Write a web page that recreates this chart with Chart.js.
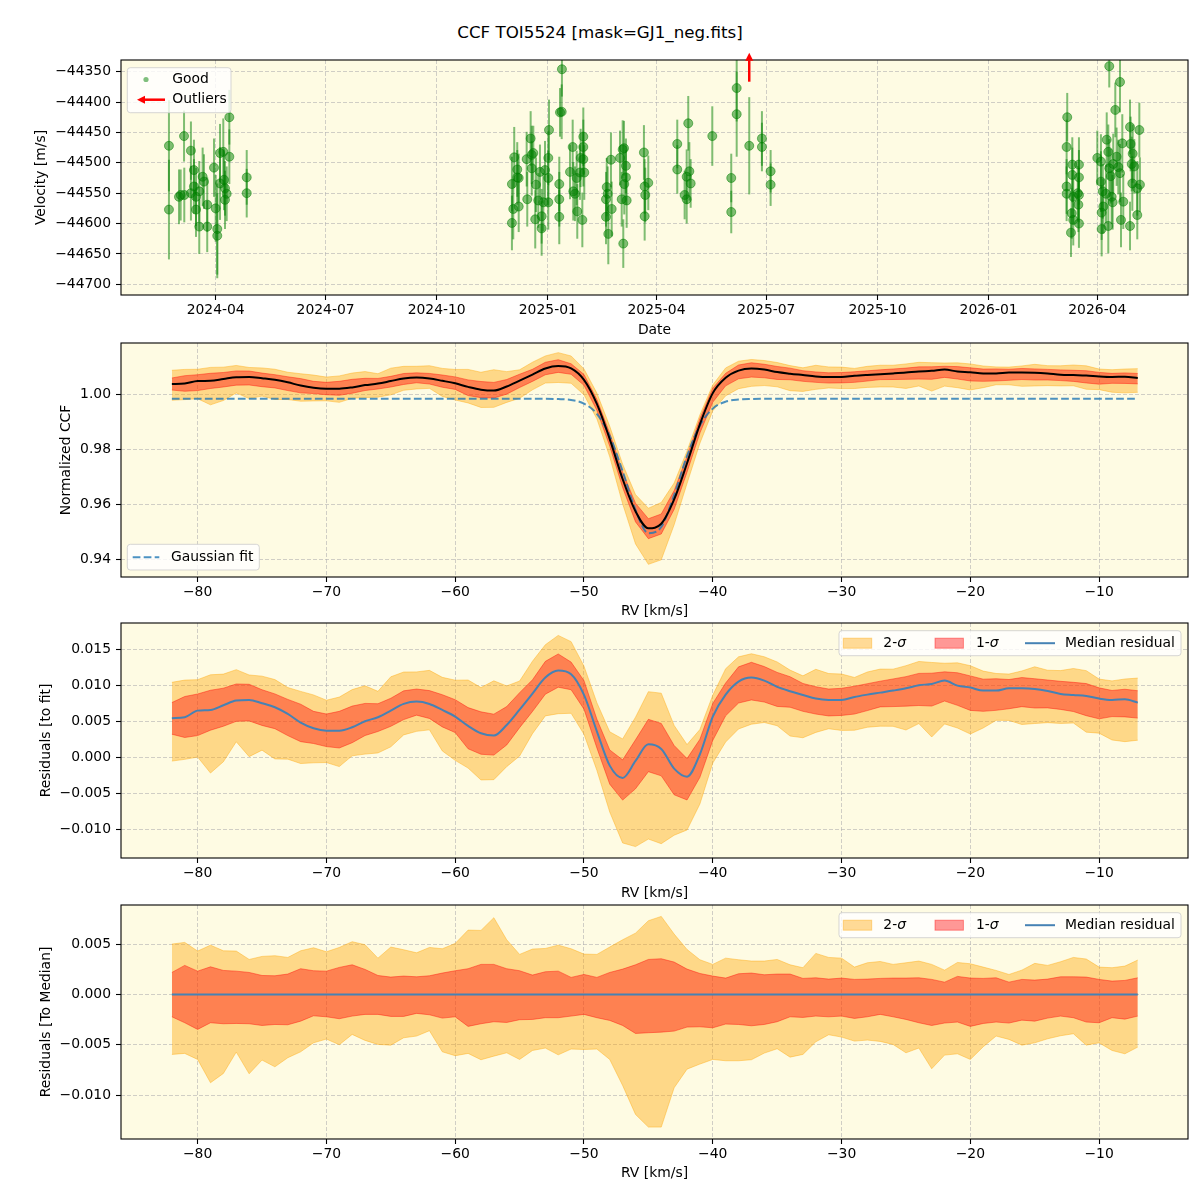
<!DOCTYPE html>
<html lang="en">
<head>
<meta charset="UTF-8">
<title>CCF TOI5524</title>
<script src="https://cdn.jsdelivr.net/npm/chart.js"></script>
<style>
    body { margin: 0; background: #fff; font-family: 'DejaVu Sans', sans-serif; }
    #page { position: relative; width: 1200px; height: 1200px; }
    .title { position: absolute; left: 0; top: 21px; width: 1200px; text-align: center; font-size: 16.7px; line-height: 22px; }
    canvas { position: absolute; left: 0; }
</style>
</head>
<body>
<div id="page">
    <div class="title">CCF TOI5524 [mask=GJ1_neg.fits]</div>
    <canvas id="rvChart" width="1200" height="345" style="top:0"></canvas>
    <canvas id="ccfChart" width="1200" height="290" style="top:335px"></canvas>
    <canvas id="residChart" width="1200" height="290" style="top:615px"></canvas>
    <canvas id="medChart" width="1200" height="303" style="top:897px"></canvas>
</div>
<script>
// ---- time series (days since 2024-01-01, velocity and error in m/s) ----
const obsDay = [
    52.3, 52.3, 60.6, 62.0, 64.8, 65.0, 70.5, 70.5, 73.0, 73.0, 74.7, 74.7, 77.4, 77.4, 80.2, 81.3, 84.0, 84.0, 89.6, 91.0,
    92.3, 92.3, 94.6, 94.6, 97.3, 97.9, 98.7, 98.7, 100.1, 102.3, 102.3, 116.7, 116.7,
    336.3, 336.3, 337.4, 338.2, 340.7, 340.7, 341.9, 341.9, 348.5, 349.0, 351.8, 352.7, 352.7, 354.0, 355.6, 356.2, 358.1, 359.5,
    360.9, 360.9, 362.3, 363.7, 366.4, 366.4, 367.0, 366.4, 375.5, 375.5, 375.5, 376.1, 377.5, 377.7, 384.4, 386.6, 387.1, 388.5,
    389.9, 390.4, 392.6, 393.2, 394.6, 395.4, 395.4, 395.4, 396.2, 414.2, 414.2, 414.8, 415.6, 416.1, 418.3, 418.9, 425.8, 427.2,
    428.0, 428.5, 429.1, 429.3, 430.7, 430.7, 431.3, 445.6, 446.2, 446.2, 446.7, 449.2, 473.2, 473.2, 479.3, 481.0, 481.0, 482.3,
    483.2, 484.3, 502.2, 517.9, 517.9, 522.4, 522.4, 532.8, 543.3, 543.3, 550.5, 550.5,
    795.6, 796.1, 795.6, 795.6, 799.2, 799.8, 800.3, 800.3, 801.1, 801.1, 804.8, 805.3, 805.8, 805.8, 805.8, 805.8, 821.0, 824.0,
    824.0, 824.6, 824.6, 825.5, 826.0, 828.2, 828.8, 830.1, 830.1, 830.9, 830.9, 832.1, 832.9, 833.7, 834.2, 835.9, 837.0, 838.4,
    839.8, 839.8, 840.6, 841.7, 842.5, 848.1, 848.1, 848.6, 849.5, 850.0, 850.3, 851.6, 854.1, 854.1, 855.8, 856.3
];
const obsVel = [
    -44472, -44577, -44556, -44553, -44456, -44553, -44480, -44550, -44512, -44539, -44556, -44577, -44547, -44605, -44523, -44531, -44569, -44605, -44508, -44575,
    -44609, -44620, -44484, -44534, -44482, -44528, -44542, -44561, -44551, -44490, -44425, -44524, -44550,
    -44535, -44599, -44576, -44491, -44511, -44524, -44525, -44572, -44494, -44560, -44460, -44487, -44509, -44484, -44593, -44536, -44562, -44515,
    -44588, -44608, -44565, -44512, -44525, -44565, -44446, -44492, -44535, -44560, -44589, -44417, -44416, -44346, -44515, -44474, -44547, -44551,
    -44525, -44580, -44516, -44492, -44594, -44457, -44474, -44494, -44516, -44560, -44589, -44540, -44551, -44617, -44495, -44576, -44492, -44560,
    -44478, -44633, -44476, -44535, -44505, -44524, -44562, -44483, -44539, -44588, -44553, -44533, -44469, -44511, -44553, -44523, -44560, -44435,
    -44514, -44534, -44456, -44525, -44581, -44377, -44420, -44472, -44460, -44474, -44514, -44536,
    -44474, -44425, -44539, -44551, -44615, -44583, -44503, -44520, -44556, -44594, -44550, -44569, -44503, -44524, -44600, -44553, -44492, -44498,
    -44531, -44582, -44609, -44547, -44572, -44551, -44462, -44482, -44604, -44341, -44509, -44522, -44556, -44565, -44502, -44413, -44490, -44507,
    -44367, -44517, -44594, -44468, -44564, -44604, -44441, -44469, -44502, -44534, -44485, -44506, -44586, -44542, -44446, -44536
];
const obsErr = [
    75, 82, 45, 42, 42, 45, 48, 45, 50, 45, 48, 45, 50, 45, 48, 45, 45, 42, 48, 55,
    75, 70, 48, 60, 55, 50, 45, 48, 45, 45, 45, 45, 40,
    45, 45, 50, 50, 45, 45, 40, 42, 45, 45, 45, 48, 45, 45, 48, 45, 45, 45,
    45, 45, 48, 48, 45, 45, 50, 45, 45, 45, 45, 40, 45, 45, 45, 45, 48, 45,
    45, 45, 45, 48, 45, 48, 45, 45, 45, 45, 45, 48, 45, 50, 45, 45, 45, 45,
    48, 40, 45, 50, 45, 45, 45, 45, 45, 40, 45, 45, 40, 40, 40, 45, 40, 45,
    48, 40, 49, 40, 35, 55, 70, 80, 45, 40, 35, 35,
    45, 40, 45, 45, 40, 42, 45, 45, 45, 42, 45, 45, 45, 45, 40, 45, 45, 45,
    50, 45, 45, 45, 45, 48, 45, 45, 45, 35, 48, 45, 45, 45, 50, 45, 48, 45,
    50, 48, 45, 48, 45, 40, 45, 45, 45, 45, 48, 45, 40, 45, 45, 45
];
const outlierDay = [532.8];

const monthTickDays = [91, 182, 274, 366, 456, 547, 639, 731, 821];
const monthTickLabels = ['2024-04', '2024-07', '2024-10', '2025-01', '2025-04', '2025-07', '2025-10', '2026-01', '2026-04'];
const velTicks = [-44700, -44650, -44600, -44550, -44500, -44450, -44400, -44350];

// ---- CCF profile (RV in km/s) ----
const rvGrid = [
    -82, -81, -80, -79, -78, -77, -76, -75, -74, -73, -72, -71, -70, -69, -68, -67, -66, -65, -64, -63,
    -62, -61, -60, -59, -58, -57, -56, -55, -54, -53, -52, -51, -50, -49, -48, -47, -46, -45, -44, -43,
    -42, -41, -40, -39, -38, -37, -36, -35, -34, -33, -32, -31, -30, -29, -28, -27, -26, -25, -24, -23,
    -22, -21, -20, -19, -18, -17, -16, -15, -14, -13, -12, -11, -10, -9, -8, -7
];
const gaussFit = [
    0.99855, 0.99855, 0.99855, 0.99855, 0.99855, 0.99855, 0.99855, 0.99855, 0.99855, 0.99855,
    0.99855, 0.99855, 0.99855, 0.99855, 0.99855, 0.99855, 0.99855, 0.99855, 0.99855, 0.99855,
    0.99855, 0.99855, 0.99855, 0.99855, 0.99855, 0.99855, 0.99855, 0.99855, 0.99855, 0.99855,
    0.99846, 0.99811, 0.9968, 0.99307, 0.98501, 0.97218, 0.95807, 0.94957, 0.95186, 0.96345,
    0.97776, 0.98885, 0.99498, 0.99752, 0.99831, 0.99851,
    0.99855, 0.99855, 0.99855, 0.99855, 0.99855, 0.99855, 0.99855, 0.99855, 0.99855, 0.99855,
    0.99855, 0.99855, 0.99855, 0.99855, 0.99855, 0.99855, 0.99855, 0.99855, 0.99855, 0.99855,
    0.99855, 0.99855, 0.99855, 0.99855, 0.99855, 0.99855, 0.99855, 0.99855, 0.99855, 0.99855
];
// median of (CCF - fit)
const medianResid = [
    0.00542, 0.00556, 0.00648, 0.00657, 0.00722, 0.00787, 0.00796, 0.0075, 0.00695, 0.00602,
    0.00482, 0.00403, 0.0037, 0.0037, 0.00417, 0.005, 0.00556, 0.00648, 0.00741, 0.00773,
    0.00741, 0.00657, 0.00565, 0.00435, 0.00333, 0.00301, 0.00449, 0.00662, 0.00884, 0.01107,
    0.01204, 0.01153, 0.00866, 0.00361, -0.00116, -0.00287, -0.00051, 0.0018, 0.00116, -0.00157,
    -0.00269, 0.00042, 0.00565, 0.0087, 0.01051, 0.01107, 0.01065, 0.00977, 0.00917, 0.00866,
    0.00815, 0.00796, 0.00796, 0.00838, 0.0087, 0.00898, 0.00926, 0.00958, 0.01, 0.01019,
    0.01065, 0.00995, 0.00968, 0.00926, 0.00926, 0.00958, 0.00958, 0.00949, 0.00921, 0.0088,
    0.00866, 0.00852, 0.00815, 0.00796, 0.00806, 0.00759
];
// percentile bands relative to the median
const sig2Upper = [
    0.00499, 0.00516, 0.0043, 0.00489, 0.00433, 0.0043, 0.00347, 0.00377, 0.00384, 0.00367,
    0.00433, 0.00463, 0.00423, 0.00466, 0.00523, 0.00493, 0.0036, 0.0047, 0.00443, 0.00413,
    0.00466, 0.00453, 0.00506, 0.00638, 0.00635, 0.00761, 0.00542, 0.00397, 0.0045, 0.00456,
    0.00489, 0.00453, 0.004, 0.00397, 0.0047, 0.00542, 0.00608, 0.00731, 0.00774, 0.00599,
    0.00446, 0.00344, 0.00298, 0.0036, 0.00344, 0.00331, 0.00331, 0.00347, 0.00294, 0.00265,
    0.00407, 0.00367, 0.0036, 0.00271, 0.00314, 0.00327, 0.00298, 0.00314, 0.00331, 0.00298,
    0.00241, 0.00317, 0.00304, 0.00271, 0.00238, 0.00198, 0.00241, 0.00308, 0.00288, 0.00324,
    0.00367, 0.00351, 0.00271, 0.00265, 0.00281, 0.00341
];
const sig2Lower = [
    -0.00595, -0.00585, -0.00645, -0.00876, -0.00784, -0.00572, -0.00787, -0.00651, -0.00718, -0.00628,
    -0.00569, -0.0048, -0.00443, -0.00499, -0.00397, -0.00456, -0.00496, -0.00503, -0.0043, -0.00413,
    -0.0036, -0.00569, -0.00608, -0.00585, -0.00648, -0.00612, -0.00579, -0.00645, -0.00556, -0.00532,
    -0.00599, -0.00542, -0.00546, -0.00542, -0.00645, -0.00903, -0.0119, -0.01316, -0.01316, -0.00926,
    -0.00741, -0.00691, -0.00645, -0.00658, -0.00658, -0.00648, -0.00582, -0.00539, -0.00622, -0.00595,
    -0.0047, -0.004, -0.00423, -0.00463, -0.00453, -0.00466, -0.00496, -0.00579, -0.00532, -0.00737,
    -0.00602, -0.00589, -0.00645, -0.00519, -0.00413, -0.00446, -0.00503, -0.0048, -0.0044, -0.0041,
    -0.0039, -0.00503, -0.0048, -0.00556, -0.00589, -0.00522
];
const sig1Upper = [
    0.00218, 0.00288, 0.00231, 0.00274, 0.00238, 0.00231, 0.00218, 0.00188, 0.00185, 0.00202,
    0.00255, 0.00235, 0.00231, 0.00268, 0.00294, 0.00248, 0.00188, 0.00172, 0.00182, 0.00175,
    0.00185, 0.00212, 0.00235, 0.00255, 0.00298, 0.00298, 0.00255, 0.00235, 0.00192, 0.00225,
    0.00231, 0.00169, 0.00198, 0.00169, 0.00218, 0.00251, 0.00294, 0.00347, 0.00354, 0.00321,
    0.00251, 0.00208, 0.00182, 0.00162, 0.00205, 0.00212, 0.00195, 0.00202, 0.00202, 0.00159,
    0.00165, 0.00152, 0.00162, 0.00149, 0.00152, 0.00159, 0.00162, 0.00162, 0.00165, 0.00149,
    0.00122, 0.00179, 0.00162, 0.00159, 0.00165, 0.00122, 0.00149, 0.00142, 0.00152, 0.00175,
    0.00175, 0.00172, 0.00149, 0.00132, 0.00139, 0.00165
];
const sig1Lower = [
    -0.00222, -0.00281, -0.00347, -0.00281, -0.00291, -0.00288, -0.00291, -0.00308, -0.00298, -0.00301,
    -0.00265, -0.00212, -0.00222, -0.00241, -0.00215, -0.00198, -0.00198, -0.00218, -0.00218, -0.00188,
    -0.00202, -0.00235, -0.00222, -0.00317, -0.00291, -0.00271, -0.00278, -0.00251, -0.00248, -0.00231,
    -0.00231, -0.00215, -0.00198, -0.00231, -0.00258, -0.00308, -0.00387, -0.0038, -0.00374, -0.00364,
    -0.00324, -0.00321, -0.00331, -0.00294, -0.00298, -0.00311, -0.00298, -0.00271, -0.00222, -0.00228,
    -0.00215, -0.00222, -0.00215, -0.00238, -0.00222, -0.00198, -0.00222, -0.00248, -0.00281, -0.00308,
    -0.00284, -0.00274, -0.00317, -0.00288, -0.00274, -0.00284, -0.00255, -0.00265, -0.00235, -0.00215,
    -0.00231, -0.00274, -0.00281, -0.00231, -0.00245, -0.00215
];

const rvTicks = [-80, -70, -60, -50, -40, -30, -20, -10];
const ccfTicks = [0.94, 0.96, 0.98, 1.00];
const residTicks = [-0.010, -0.005, 0.000, 0.005, 0.010, 0.015];
const medTicks = [-0.010, -0.005, 0.000, 0.005];

// ---- styling ----
Chart.defaults.font.family = "'DejaVu Sans', sans-serif";
Chart.defaults.font.size = 13.9;
Chart.defaults.color = '#000';
Chart.defaults.animation = false;

const BG = 'rgb(254,251,227)';
const GRID = 'rgba(176,176,176,0.6)';
const S2 = 'rgba(255,165,0,0.4)';
const S1 = 'rgba(255,0,0,0.4)';
const MED = '#4682b4';
const GREEN = 'rgba(0,128,0,0.5)';
const MINUS = '\u2212';

function fmt(v, dec) {
    const s = Math.abs(v).toFixed(dec);
    return (v < -1e-12 ? MINUS : '') + s;
}

// pin axis boxes so every plot area lands where the reference has it
function fixY(width) { return s => { s.width = width; s.paddingTop = 0; s.paddingBottom = 0; }; }
function fixX(height) { return s => { s.height = height; s.paddingLeft = 0; s.paddingRight = 0; }; }

function gridOpts() {
    return { color: GRID, lineWidth: 1, tickLength: 5, tickColor: '#000', tickWidth: 1.1 };
}

function xScale(min, max, ticks, label, titlePad, labelFn) {
    return {
        type: 'linear', min: min, max: max,
        afterBuildTicks: s => { s.ticks = ticks.map(v => ({ value: v })); },
        afterFit: fixX(45),
        ticks: { callback: labelFn, padding: 2, maxRotation: 0, autoSkip: false },
        grid: gridOpts(),
        border: { display: false, dash: [4, 2] },
        title: { display: true, text: label, padding: { top: 0, bottom: titlePad } }
    };
}

function yScale(min, max, ticks, dec, label, titlePad) {
    return {
        type: 'linear', min: min, max: max,
        afterBuildTicks: s => { s.ticks = ticks.map(v => ({ value: v })); },
        afterFit: fixY(121),
        ticks: { callback: v => fmt(v, dec), padding: 5, autoSkip: false },
        grid: gridOpts(),
        border: { display: false, dash: [4, 2] },
        title: { display: true, text: label, padding: { top: titlePad, bottom: 0 } }
    };
}

const framePlugin = {
    id: 'frame',
    beforeDraw(chart) {
        const { ctx, chartArea: a } = chart;
        ctx.save();
        ctx.fillStyle = BG;
        ctx.fillRect(a.left, a.top, a.right - a.left, a.bottom - a.top);
        ctx.restore();
    },
    afterDatasetsDraw(chart) {
        const { ctx, chartArea: a } = chart;
        ctx.save();
        ctx.strokeStyle = '#000';
        ctx.lineWidth = 1.1;
        ctx.strokeRect(a.left, a.top, a.right - a.left, a.bottom - a.top);
        ctx.restore();
    }
};

function legendFrame(ctx, x, y, w, h) {
    ctx.save();
    ctx.beginPath();
    if (ctx.roundRect) ctx.roundRect(x, y, w, h, 3); else ctx.rect(x, y, w, h);
    ctx.fillStyle = 'rgba(255,255,255,0.8)';
    ctx.fill();
    ctx.strokeStyle = 'rgba(204,204,204,0.8)';
    ctx.lineWidth = 1;
    ctx.stroke();
    ctx.restore();
}

function legendText(ctx, text, x, y, italic) {
    ctx.font = (italic ? 'italic ' : '') + "13.9px 'DejaVu Sans'";
    ctx.fillStyle = '#000';
    ctx.textBaseline = 'middle';
    ctx.textAlign = 'left';
    ctx.fillText(text, x, y);
    return ctx.measureText(text).width;
}

function arrow(ctx, x1, y1, x2, y2) {
    // shaft from (x1,y1), head tip at (x2,y2)
    const ang = Math.atan2(y2 - y1, x2 - x1);
    const hl = 8, hw = 4;
    const bx = x2 - hl * Math.cos(ang), by = y2 - hl * Math.sin(ang);
    ctx.save();
    ctx.strokeStyle = 'red';
    ctx.fillStyle = 'red';
    ctx.lineWidth = 2.5;
    ctx.beginPath();
    ctx.moveTo(x1, y1);
    ctx.lineTo(bx, by);
    ctx.stroke();
    ctx.beginPath();
    ctx.moveTo(x2, y2);
    ctx.lineTo(bx + hw * Math.sin(ang), by - hw * Math.cos(ang));
    ctx.lineTo(bx - hw * Math.sin(ang), by + hw * Math.cos(ang));
    ctx.closePath();
    ctx.fill();
    ctx.restore();
}

function sigmaLegend(chart) {
    const { ctx, chartArea: a } = chart;
    const x0 = a.right - 349, y0 = a.top + 7.7, w = 342, h = 25;
    const cy = y0 + h / 2;
    legendFrame(ctx, x0, y0, w, h);
    ctx.save();
    [[S2, 4.3, 44.3, '2-'], [S1, 96, 137, '1-']].forEach(([c, px, tx, t]) => {
        ctx.fillStyle = c;
        ctx.strokeStyle = c;
        ctx.fillRect(x0 + px, cy - 5, 28.4, 10);
        ctx.strokeRect(x0 + px, cy - 5, 28.4, 10);
        const tw = legendText(ctx, t, x0 + tx, cy, false);
        legendText(ctx, '\u03c3', x0 + tx + tw, cy, true);
    });
    ctx.strokeStyle = MED;
    ctx.lineWidth = 2;
    ctx.beginPath();
    ctx.moveTo(x0 + 186, cy);
    ctx.lineTo(x0 + 216, cy);
    ctx.stroke();
    legendText(ctx, 'Median residual', x0 + 226, cy, false);
    ctx.restore();
}

function pts(ys) { return rvGrid.map((x, i) => ({ x: x, y: ys[i] })); }
function plus(a, b) { return a.map((v, i) => v + b[i]); }

function bandDatasets(center, centerColor, extra) {
    const line = (data, color, order, fill) => ({
        data: pts(data), borderColor: color, backgroundColor: color, borderWidth: 1,
        pointRadius: 0, fill: fill, order: order
    });
    const sets = [
        line(plus(center, sig2Lower), S2, 4, false),
        line(plus(center, sig2Upper), S2, 4, '-1'),
        line(plus(center, sig1Lower), S1, 3, false),
        line(plus(center, sig1Upper), S1, 3, '-1'),
        { data: pts(center), borderColor: centerColor, borderWidth: 2, pointRadius: 0, fill: false,
          cubicInterpolationMode: 'monotone', order: 0 }
    ];
    return sets.concat(extra || []);
}

function baseOptions(pad) {
    return {
        responsive: false,
        animation: false,
        layout: { padding: pad, autoPadding: false },
        plugins: { legend: { display: false }, tooltip: { enabled: false } }
    };
}

// ---- panel 1: RV time series ----
const errSegs = [];
obsDay.forEach((d, i) => {
    errSegs.push({ x: d, y: obsVel[i] - obsErr[i] }, { x: d, y: obsVel[i] + obsErr[i] }, { x: d, y: null });
});

const rvOpts = baseOptions({ top: 60, bottom: 5, left: 0, right: 12 });
rvOpts.scales = {
    x: xScale(12.6, 896.1, monthTickDays, 'Date', 1.65, (v, i) => monthTickLabels[i]),
    y: yScale(-44717.6, -44330.8, velTicks, 0, 'Velocity [m/s]', 32.66)
};

new Chart(document.getElementById('rvChart'), {
    type: 'scatter',
    data: {
        datasets: [
            { label: 'Good', data: obsDay.map((d, i) => ({ x: d, y: obsVel[i] })),
              pointRadius: 4.5, backgroundColor: GREEN, borderColor: GREEN, borderWidth: 1, order: 0 },
            { type: 'line', label: 'errors', data: errSegs, borderColor: GREEN, borderWidth: 2,
              pointRadius: 0, spanGaps: false, fill: false, order: 1,
              segment: { borderColor: () => GREEN } }
        ]
    },
    options: rvOpts,
    plugins: [framePlugin, {
        id: 'rvExtras',
        afterDraw(chart) {
            const { ctx, chartArea: a, scales } = chart;
            outlierDay.forEach(d => {
                const x = scales.x.getPixelForValue(d);
                arrow(ctx, x, a.top + 21.7, x, a.top - 7.3);
            });
            const x0 = a.left + 6.3, y0 = a.top + 7.7;
            legendFrame(ctx, x0, y0, 103.7, 45);
            ctx.save();
            ctx.fillStyle = GREEN;
            ctx.beginPath();
            ctx.arc(x0 + 18.7, y0 + 11.8, 2.6, 0, Math.PI * 2);
            ctx.fill();
            legendText(ctx, 'Good', x0 + 45, y0 + 11.8, false);
            arrow(ctx, x0 + 37.7, y0 + 32, x0 + 9.7, y0 + 32);
            legendText(ctx, 'Outliers', x0 + 45, y0 + 32, false);
            ctx.restore();
        }
    }]
});

// ---- panel 2: normalized CCF ----
const ccfMedian = plus(gaussFit, medianResid);
const ccfOpts = baseOptions({ top: 8, bottom: 3, left: 0, right: 12 });
ccfOpts.scales = {
    x: xScale(-85.95, -3.1, rvTicks, 'RV [km/s]', 2.65, v => fmt(v, 0)),
    y: yScale(0.9336, 1.0189, ccfTicks, 2, 'Normalized CCF', 57.66)
};
new Chart(document.getElementById('ccfChart'), {
    type: 'line',
    data: {
        datasets: bandDatasets(ccfMedian, '#000', [
            { data: pts(gaussFit), borderColor: 'rgba(31,119,180,0.8)', borderWidth: 2, borderDash: [7.7, 3.3],
              pointRadius: 0, fill: false, cubicInterpolationMode: 'monotone', order: 1 }
        ])
    },
    options: ccfOpts,
    plugins: [framePlugin, {
        id: 'ccfLegend',
        afterDraw(chart) {
            const { ctx, chartArea: a } = chart;
            const x0 = a.left + 6.3, y0 = a.bottom - 32.7;
            const cy = y0 + 12.85;
            legendFrame(ctx, x0, y0, 132, 25.7);
            ctx.save();
            ctx.strokeStyle = 'rgba(31,119,180,0.8)';
            ctx.lineWidth = 2;
            ctx.setLineDash([7.7, 3.3]);
            ctx.beginPath();
            ctx.moveTo(x0 + 5.4, cy);
            ctx.lineTo(x0 + 32, cy);
            ctx.stroke();
            ctx.setLineDash([]);
            legendText(ctx, 'Gaussian fit', x0 + 43.7, cy, false);
            ctx.restore();
        }
    }]
});

// ---- panel 3: residuals to fit ----
const residOpts = baseOptions({ top: 8, bottom: 2, left: 0, right: 12 });
residOpts.scales = {
    x: xScale(-85.95, -3.1, rvTicks, 'RV [km/s]', 1.65, v => fmt(v, 0)),
    y: yScale(-0.01399, 0.01865, residTicks, 3, 'Residuals [to fit]', 37.66)
};
new Chart(document.getElementById('residChart'), {
    type: 'line',
    data: { datasets: bandDatasets(medianResid, MED) },
    options: residOpts,
    plugins: [framePlugin, { id: 'residLegend', afterDraw: sigmaLegend }]
});

// ---- panel 4: residuals to median ----
const medianToMedian = rvGrid.map(() => 0);
const medOpts = baseOptions({ top: 8, bottom: 16, left: 0, right: 12 });
medOpts.scales = {
    x: xScale(-85.95, -3.1, rvTicks, 'RV [km/s]', 2.65, v => fmt(v, 0)),
    y: yScale(-0.01434, 0.00887, medTicks, 3, 'Residuals [To Median]', 37.66)
};
new Chart(document.getElementById('medChart'), {
    type: 'line',
    data: { datasets: bandDatasets(medianToMedian, MED) },
    options: medOpts,
    plugins: [framePlugin, { id: 'medLegend', afterDraw: sigmaLegend }]
});
</script>
</body>
</html>
